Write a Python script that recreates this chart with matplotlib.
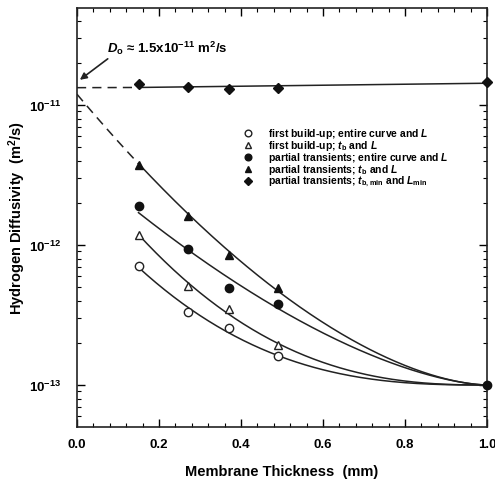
import numpy as np
import matplotlib
matplotlib.use("Agg")
import matplotlib.pyplot as plt
from matplotlib.ticker import MultipleLocator, LogLocator, NullFormatter, FixedLocator, FormatStrFormatter

plt.rcParams['font.family'] = ['Liberation Sans', 'DejaVu Sans']
plt.rcParams['mathtext.fontset'] = 'custom'
plt.rcParams['mathtext.rm'] = 'Liberation Sans:bold'
plt.rcParams['mathtext.it'] = 'Liberation Sans:italic:bold'
plt.rcParams['mathtext.bf'] = 'Liberation Sans:bold'
plt.rcParams['axes.unicode_minus'] = False

# Data
thickness = [0.15, 0.27, 0.37, 0.49]
fb_entire = [7.1e-13, 3.3e-13, 2.55e-13, 1.6e-13]      # open circles
fb_tb = [1.17e-12, 5.1e-13, 3.5e-13, 1.94e-13]         # open triangles
pt_entire = [1.9e-12, 9.4e-13, 4.9e-13, 3.8e-13]       # filled circles
pt_tb = [3.7e-12, 1.62e-12, 8.5e-13, 4.9e-13]          # filled triangles
pt_min = [1.41e-11, 1.35e-11, 1.30e-11, 1.32e-11]      # diamonds
thick_end = 1.0
d_end = 1.0e-13
diamond_end = 1.47e-11
d0_value = 1.33e-11

labels = ["first build-up; entire curve and $\\it{L}$",
          "first build-up; $\\it{t}_{\\rm b}$ and $\\it{L}$",
          "partial transients; entire curve and $\\it{L}$",
          "partial transients; $\\it{t}_{\\rm b}$ and $\\it{L}$",
          "partial transients; $\\it{t}_{\\rm b,min}$ and $\\it{L}_{\\rm min}$"]

fig = plt.figure(figsize=(4.95, 4.85), dpi=100)
ax = fig.add_axes([77/495, 1-428/485, 410/495, 419/485])
ax.set_yscale('log')
ax.set_xlim(0, 1.0)
ax.set_ylim(10**-13.3, 10**-10.307)

def power_fit(xs, ys):
    # log10(D) - log10(D_end) = b * (1 - x)^p, fitted in log-log space
    u = np.log10(thick_end - np.asarray(xs))
    v = np.log10(np.log10(np.asarray(ys)) - np.log10(d_end))
    p, lb = np.polyfit(u, v, 1)
    return lambda x: 10**(np.log10(d_end) + 10**lb * (thick_end - x)**p)

lw = 1.1
col = '#222222'
for ys in [fb_entire, fb_tb, pt_entire]:
    f = power_fit(thickness, ys)
    xx = np.linspace(thickness[0], thick_end, 200)
    ax.plot(xx, f(xx), color=col, lw=lw)

f = power_fit([0.0] + thickness, [d0_value] + pt_tb)
xx = np.linspace(thickness[0], thick_end, 200)
ax.plot(xx, f(xx), color=col, lw=lw)
xx = np.linspace(0, thickness[0], 50)
ax.plot(xx, f(xx), color=col, lw=lw, ls=(0, (6, 4)))

# diamond line
xs = thickness + [thick_end]
yy = pt_min + [diamond_end]
c = np.polyfit(xs, np.log10(yy), 1)
xx = np.array([thickness[0], thick_end])
ax.plot(xx, 10**np.polyval(c, xx), color=col, lw=lw)
ax.plot([0, thickness[0]], [d0_value, 10**np.polyval(c, thickness[0])], color=col, lw=lw, ls=(0, (6, 4)))

ms = 6
styles = [dict(marker='o', mfc='white', mec=col, mew=1.0),
          dict(marker='^', mfc='white', mec=col, mew=1.0),
          dict(marker='o', mfc='#111111', mec='#111111'),
          dict(marker='^', mfc='#111111', mec='#111111'),
          dict(marker='D', mfc='#111111', mec='#111111')]
series = [fb_entire, fb_tb, pt_entire, pt_tb]
for ys, st in zip(series, styles[:4]):
    ax.plot(thickness, ys, ls='none', ms=ms, **st)
ax.plot(thickness + [thick_end], pt_min + [diamond_end], ls='none', ms=5.5,
        clip_on=False, zorder=5, **styles[4])
ax.plot([thick_end], [d_end], 'o', color='#111111', ms=ms, clip_on=False, zorder=5)

# legend (keys and labels placed in axes coordinates)
row_px = [134, 146, 158, 170, 182]
for rp, lab, st in zip(row_px, labels, styles):
    yy_ax = (428 - rp) / 419
    ax.plot([(248 - 77) / 410], [yy_ax], transform=ax.transAxes, ls='none',
            ms=4.8 if st['marker'] != 'D' else 4.2, **st)
    ax.text((268 - 77) / 410, yy_ax, lab, transform=ax.transAxes, fontsize=7.5,
            fontweight='bold', ha='left', va='center')

ax.text(0.073, 10**-10.586, "$\\it{D}_{\\rm o}$ \u2248 1.5x10$^{-11}$ m$^2$/s",
        fontsize=9.5, fontweight='bold', ha='left', va='center')
ax.annotate("", xy=(0.007, 10**-10.82), xytext=(0.075, 10**-10.67),
            arrowprops=dict(arrowstyle='-|>', color=col, lw=1.2, mutation_scale=10,
                            shrinkA=0, shrinkB=0))

ax.xaxis.set_major_locator(MultipleLocator(0.2))
ax.xaxis.set_minor_locator(MultipleLocator(0.04))
ax.xaxis.set_major_formatter(FormatStrFormatter('%.1f'))
ax.yaxis.set_major_locator(FixedLocator([1e-13, 1e-12, 1e-11]))
ax.yaxis.set_minor_locator(LogLocator(base=10, subs=np.arange(2, 10), numticks=20))
ax.yaxis.set_minor_formatter(NullFormatter())
ax.tick_params(which='both', direction='in', top=True, right=True, labelsize=9.5)
ax.tick_params(which='major', length=6, width=1)
ax.tick_params(which='minor', length=3, width=0.8)
ax.tick_params(axis='x', pad=8)
ax.tick_params(axis='y', pad=11)
for lab in ax.get_xticklabels() + ax.get_yticklabels():
    lab.set_fontweight('bold')
for s in ax.spines.values():
    s.set_linewidth(1.2)
    s.set_color(col)

ax.set_xlabel("Membrane Thickness  (mm)", fontsize=10.5, fontweight='bold', labelpad=10)
ax.set_ylabel("Hydrogen Diffusivity  (m$^2$/s)", fontsize=10.5, fontweight='bold')
ax.yaxis.set_label_coords(-0.12, 0.5)

fig.savefig("out.png", dpi=100)
